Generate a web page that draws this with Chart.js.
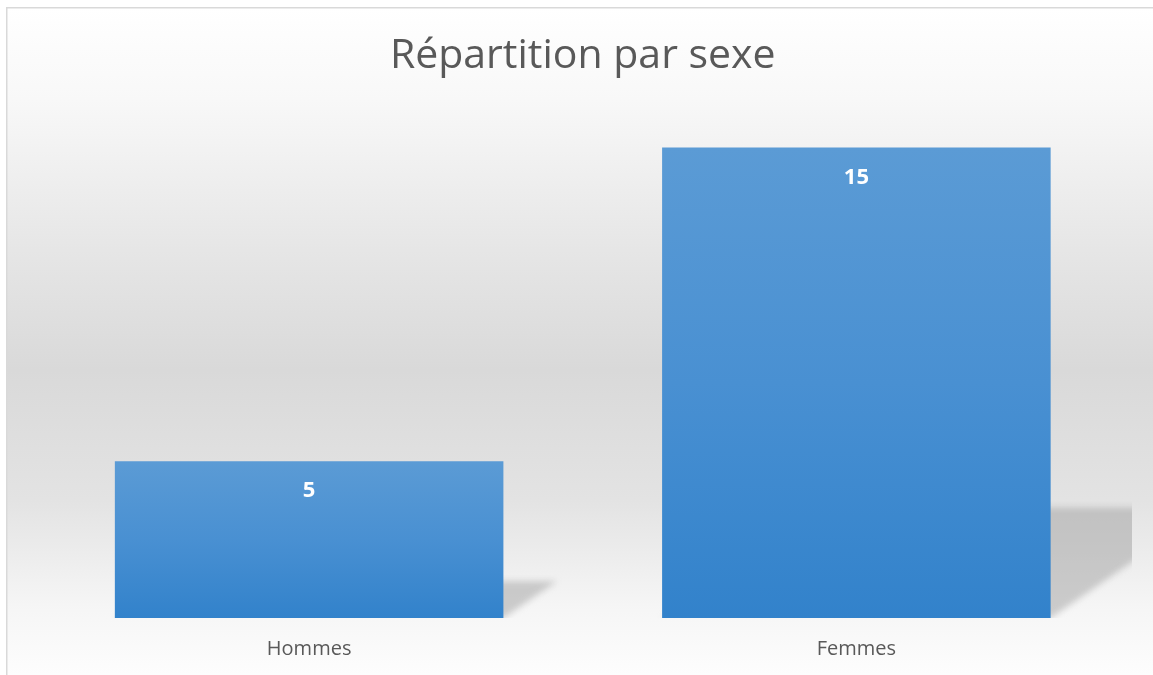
<!DOCTYPE html>
<html>
<head>
<meta charset="utf-8">
<script src="https://cdn.jsdelivr.net/npm/chart.js@4/dist/chart.umd.min.js"></script>
<style>
  html, body { margin: 0; padding: 0; background: #ffffff; overflow: hidden; }
  #wrap { position: absolute; left: 0; top: 0; width: 1153px; height: 675px; }
</style>
</head>
<body>
<div id="wrap"><canvas id="c" width="1153" height="675"></canvas></div>
<script>
const chartTitle = "Répartition par sexe";
const categories = ["Hommes", "Femmes"];
const values = [5, 15];
const yMax = 16;

const bgPlugin = {
  id: 'bgPlugin',
  beforeDraw(chart) {
    const ctx = chart.ctx;
    ctx.save();
    ctx.fillStyle = '#ffffff';
    ctx.fillRect(0, 0, chart.width, chart.height);
    const g = ctx.createLinearGradient(0, 8, 0, 675);
    const stop = (y, c) => g.addColorStop((y - 8) / 667, c);
    stop(8, '#ffffff');
    stop(100, '#f8f8f8');
    stop(250, '#e6e6e6');
    stop(370, '#d9d9d9');
    stop(500, '#e3e3e3');
    stop(610, '#f6f6f6');
    stop(675, '#fdfdfd');
    ctx.fillStyle = g;
    ctx.fillRect(7, 8, chart.width - 7, chart.height - 8);
    ctx.strokeStyle = '#d9d9d9';
    ctx.lineWidth = 1.5;
    ctx.beginPath();
    ctx.moveTo(6.75, chart.height);
    ctx.lineTo(6.75, 7.75);
    ctx.lineTo(chart.width, 7.75);
    ctx.stroke();
    ctx.restore();
  }
};

const shadowPlugin = {
  id: 'shadowPlugin',
  beforeDatasetsDraw(chart) {
    const ctx = chart.ctx;
    const area = chart.chartArea;
    const meta = chart.getDatasetMeta(0);
    ctx.save();
    ctx.beginPath();
    ctx.rect(area.left, area.top, area.right - area.left + 2, area.bottom - area.top);
    ctx.clip();
    ctx.filter = 'blur(3px)';
    ctx.fillStyle = 'rgba(150,150,150,0.45)';
    meta.data.forEach(bar => {
      const p = bar.getProps(['x', 'y', 'base', 'width'], true);
      const left = p.x - p.width / 2, right = p.x + p.width / 2;
      const H = (p.base - p.y) * 0.235;
      const s = 1.45;
      ctx.beginPath();
      ctx.moveTo(left, p.base);
      ctx.lineTo(right, p.base);
      ctx.lineTo(right + s * H, p.base - H);
      ctx.lineTo(left + s * H, p.base - H);
      ctx.closePath();
      ctx.fill();
    });
    ctx.restore();
  }
};

const labelPlugin = {
  id: 'labelPlugin',
  afterDatasetsDraw(chart) {
    const ctx = chart.ctx;
    const meta = chart.getDatasetMeta(0);
    ctx.save();
    ctx.fillStyle = '#ffffff';
    ctx.font = 'bold 22px "Open Sans"';
    ctx.textAlign = 'center';
    ctx.textBaseline = 'middle';
    meta.data.forEach((bar, i) => {
      const p = bar.getProps(['x', 'y'], true);
      ctx.fillText(String(values[i]), p.x, p.y + 30);
    });
    ctx.restore();
  }
};

function barGradient(context) {
  const chart = context.chart;
  const yScale = chart.scales && chart.scales.y;
  if (!chart.chartArea || !yScale || context.dataIndex === undefined) return '#4a8fd1';
  const top = yScale.getPixelForValue(values[context.dataIndex]);
  const base = yScale.getPixelForValue(0);
  if (!isFinite(top) || !isFinite(base) || top === base) return '#4a8fd1';
  const g = chart.ctx.createLinearGradient(0, top, 0, base);
  g.addColorStop(0, '#5b9bd5');
  g.addColorStop(0.5, '#4990d2');
  g.addColorStop(1, '#3282cb');
  return g;
}

new Chart(document.getElementById('c'), {
  type: 'bar',
  data: {
    labels: categories,
    datasets: [{
      data: values,
      backgroundColor: barGradient,
      borderWidth: 0,
      categoryPercentage: 0.71,
      barPercentage: 1.0
    }]
  },
  options: {
    responsive: false,
    animation: false,
    layout: { padding: { left: 35.5, right: 23, top: 0, bottom: 14 } },
    plugins: {
      legend: { display: false },
      tooltip: { enabled: false },
      title: {
        display: true,
        text: chartTitle,
        color: '#595959',
        font: { family: 'Open Sans', size: 41, weight: 'normal', lineHeight: 1.2 },
        padding: { top: 32, bottom: 34.8 }
      }
    },
    scales: {
      x: {
        grid: { display: false, drawTicks: false },
        border: { display: false },
        ticks: {
          color: '#595959',
          font: { family: 'Open Sans', size: 20, lineHeight: 1.2 },
          padding: 19
        },
        afterFit(scale) { scale.height = 43; }
      },
      y: {
        display: false,
        min: 0,
        max: yMax
      }
    }
  },
  plugins: [bgPlugin, shadowPlugin, labelPlugin]
});
</script>
</body>
</html>
